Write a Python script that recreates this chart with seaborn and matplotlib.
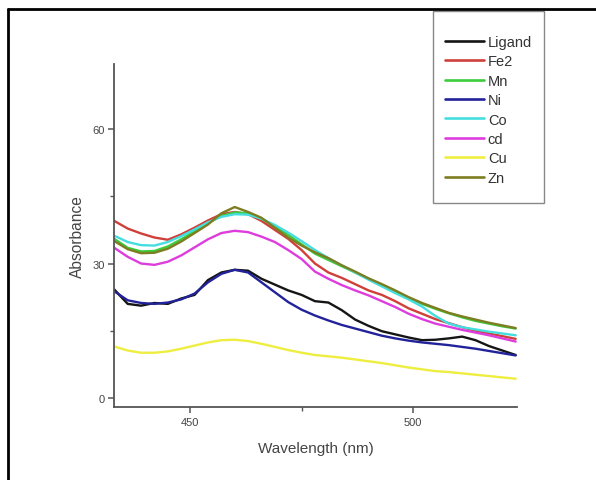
import numpy as np
import pandas as pd
import matplotlib
matplotlib.use("Agg")
import matplotlib.pyplot as plt
from matplotlib.lines import Line2D
from matplotlib.patches import Rectangle
import seaborn as sns

wavelength = [433, 436, 439, 442, 445, 448, 451, 454, 457, 460, 463, 466, 469, 472, 475,
              478, 481, 484, 487, 490, 493, 496, 499, 502, 505, 508, 511, 514, 517, 520, 523]

ligand = [24.2, 21.0, 20.6, 21.2, 21.0, 22.2, 23.0, 26.3, 28.0, 28.6, 28.4, 26.6, 25.3, 24.0, 23.0,
          21.6, 21.3, 19.6, 17.5, 16.1, 14.9, 14.2, 13.5, 12.9, 13.0, 13.3, 13.7, 12.9, 11.6, 10.6, 9.6]
fe2 = [39.5, 37.8, 36.7, 35.8, 35.3, 36.5, 38.0, 39.6, 41.0, 41.5, 41.0, 39.5, 37.5, 35.5, 33.0,
       30.0, 28.0, 26.8, 25.4, 24.0, 23.0, 21.6, 20.0, 18.8, 17.6, 16.7, 15.8, 15.0, 14.4, 13.8, 13.2]
mn = [35.5, 33.5, 32.7, 32.8, 33.8, 35.4, 37.2, 39.0, 40.6, 41.4, 41.2, 40.0, 38.3, 36.4, 34.3,
      32.2, 30.8, 29.4, 28.0, 26.6, 25.2, 23.8, 22.4, 21.0, 19.9, 18.9, 18.0, 17.2, 16.6, 16.0, 15.5]
ni = [23.8, 21.8, 21.2, 21.0, 21.3, 22.0, 23.3, 25.8, 27.7, 28.6, 28.0, 25.8, 23.6, 21.4, 19.7,
      18.4, 17.3, 16.3, 15.5, 14.7, 13.9, 13.3, 12.8, 12.4, 12.1, 11.8, 11.4, 11.0, 10.5, 10.0, 9.5]
co = [36.2, 34.8, 34.1, 34.0, 34.8, 36.1, 37.6, 39.2, 40.4, 41.0, 40.9, 40.0, 38.6, 36.9, 35.0,
      33.0, 31.2, 29.6, 28.0, 26.4, 24.9, 23.4, 22.0, 20.4, 18.3, 16.6, 15.8, 15.3, 14.8, 14.4, 14.0]
cd = [33.5, 31.5, 30.0, 29.7, 30.4, 31.8, 33.6, 35.4, 36.8, 37.3, 37.0, 36.0, 34.8, 33.0, 31.0,
      28.2, 26.6, 25.2, 24.0, 22.9, 21.6, 20.3, 18.8, 17.6, 16.6, 15.9, 15.2, 14.6, 14.0, 13.3, 12.6]
cu = [11.5, 10.6, 10.1, 10.1, 10.4, 11.0, 11.7, 12.4, 12.9, 13.0, 12.7, 12.1, 11.4, 10.7, 10.1,
      9.6, 9.3, 9.0, 8.6, 8.2, 7.8, 7.3, 6.8, 6.4, 6.0, 5.8, 5.5, 5.2, 4.9, 4.6, 4.3]
zn = [35.0, 33.2, 32.3, 32.4, 33.3, 34.9, 36.8, 38.7, 41.2, 42.6, 41.5, 40.2, 38.0, 35.8, 34.0,
      32.5, 31.2, 29.6, 28.2, 26.7, 25.4, 24.0, 22.5, 21.2, 20.1, 19.0, 18.2, 17.5, 16.8, 16.2, 15.6]

series_names = ["Ligand", "Fe2", "Mn", "Ni", "Co", "cd", "Cu", "Zn"]
series_values = [ligand, fe2, mn, ni, co, cd, cu, zn]
series_colors = ["#151515", "#d0403a", "#3ccc3c", "#22229a", "#44dde0", "#dd3ddd", "#eeee40", "#7d7d22"]

x_ticks = [450, 500]
y_ticks = [0, 30, 60]

rows = []
for name, vals in zip(series_names, series_values):
    for w, v in zip(wavelength, vals):
        rows.append({"Wavelength": w, "Absorbance": v, "Sample": name})
df = pd.DataFrame(rows)

sns.set_style("ticks")
plt.rcParams["font.family"] = ["Liberation Sans", "DejaVu Sans"]

W, H = 596, 481
fig = plt.figure(figsize=(W / 100, H / 100), dpi=100)
ax = fig.add_axes([114.3 / W, 1 - 408 / H, (517 - 114.3) / W, (408 - 65) / H])

palette = dict(zip(series_names, series_colors))
sns.lineplot(data=df, x="Wavelength", y="Absorbance", hue="Sample", hue_order=series_names,
             palette=palette, linewidth=1.7, ax=ax, legend=False, sort=True)

ax.set_xlim(433, 523.3)
ax.set_ylim(-2, 74.5)
ax.set_xticks(x_ticks)
ax.set_yticks(y_ticks)
ax.set_xticks([475], minor=True)
ax.set_yticks([15, 45], minor=True)
for s in ["top", "right"]:
    ax.spines[s].set_visible(False)
for s in ["left", "bottom"]:
    ax.spines[s].set_color("#555555")
    ax.spines[s].set_linewidth(1.3)
ax.tick_params(which="major", direction="out", length=4, width=1.1, color="#555555",
               labelsize=8, labelcolor="#444444", pad=3)
ax.tick_params(which="minor", direction="out", length=3, width=1.0, color="#555555")
ax.set_xlabel("Wavelength (nm)", fontsize=11, color="#444444", labelpad=10)
ax.set_ylabel("Absorbance", fontsize=11.2, color="#444444", labelpad=5)

# legend
handles = [Line2D([0], [0], color=c, lw=1.9) for c in series_colors]
leg = fig.legend(handles, series_names, loc="upper left",
                 bbox_to_anchor=(445 / W, 1 - 36 / H), frameon=False,
                 fontsize=10.5, handlelength=2.67, handletextpad=0.27, labelspacing=0.37,
                 borderpad=0, borderaxespad=0)
for t in leg.get_texts():
    t.set_color("#333333")
fig.patches.append(Rectangle((433 / W, 1 - 204 / H), (544 - 433) / W, (204 - 12) / H,
                             transform=fig.transFigure, fill=False, edgecolor="#888888",
                             linewidth=1.0))

# outer frame (left and top)
fig.lines.append(Line2D([8 / W, 8 / W], [0, 1 - 10 / H], transform=fig.transFigure,
                        color="black", linewidth=2))
fig.lines.append(Line2D([8 / W, 1], [1 - 10 / H, 1 - 10 / H], transform=fig.transFigure,
                        color="black", linewidth=2))

fig.savefig("out.png", dpi=100, facecolor="white")
